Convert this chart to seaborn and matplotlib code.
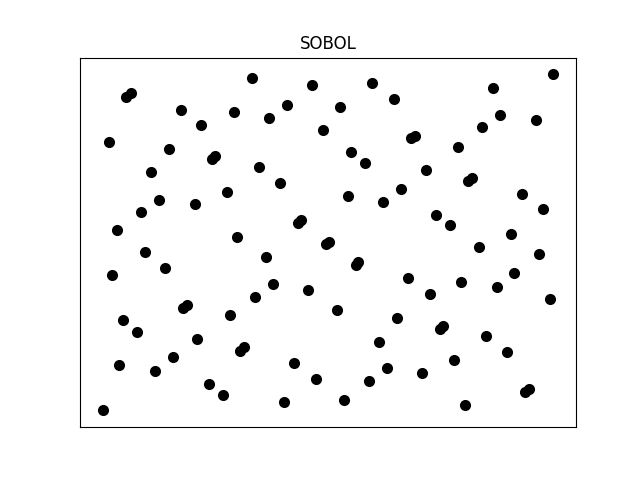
import matplotlib
matplotlib.use("Agg")
import matplotlib.pyplot as plt
import seaborn as sns

# sample points (unit square)
x_vals = [0.002, 0.054, 0.065, 0.017, 0.175, 0.221, 0.292, 0.332, 0.370, 0.410,
          0.465, 0.527, 0.598, 0.647, 0.490, 0.552, 0.583, 0.684, 0.693, 0.789,
          0.842, 0.867, 0.881, 0.961, 1.000, 0.150, 0.110, 0.244, 0.252, 0.348,
          0.394, 0.277, 0.206, 0.126, 0.088, 0.034, 0.095, 0.141, 0.023, 0.299,
          0.363, 0.379, 0.339, 0.434, 0.442, 0.497, 0.504, 0.545, 0.623, 0.663,
          0.718, 0.810, 0.819, 0.931, 0.977, 0.740, 0.771, 0.836, 0.906, 0.969,
          0.913, 0.875, 0.993, 0.796, 0.726, 0.678, 0.562, 0.568, 0.456, 0.521,
          0.654, 0.748, 0.756, 0.851, 0.898, 0.780, 0.614, 0.632, 0.709, 0.592,
          0.536, 0.474, 0.425, 0.403, 0.307, 0.316, 0.283, 0.212, 0.181, 0.190,
          0.048, 0.079, 0.039, 0.119, 0.159, 0.237, 0.268, 0.805, 0.937, 0.946]
y_vals = [0.000, 0.935, 0.946, 0.801, 0.896, 0.849, 0.890, 0.991, 0.871, 0.911,
          0.968, 0.905, 0.976, 0.929, 0.835, 0.771, 0.738, 0.811, 0.818, 0.786,
          0.843, 0.959, 0.881, 0.866, 1.001, 0.780, 0.709, 0.748, 0.757, 0.724,
          0.676, 0.652, 0.614, 0.628, 0.590, 0.536, 0.471, 0.423, 0.402, 0.518,
          0.456, 0.378, 0.337, 0.558, 0.567, 0.495, 0.503, 0.638, 0.622, 0.661,
          0.715, 0.684, 0.692, 0.646, 0.599, 0.581, 0.551, 0.488, 0.527, 0.465,
          0.408, 0.369, 0.331, 0.384, 0.346, 0.393, 0.433, 0.441, 0.360, 0.298,
          0.274, 0.242, 0.251, 0.221, 0.173, 0.149, 0.203, 0.125, 0.110, 0.087,
          0.030, 0.093, 0.140, 0.024, 0.178, 0.189, 0.283, 0.212, 0.306, 0.314,
          0.268, 0.235, 0.134, 0.116, 0.158, 0.078, 0.045, 0.016, 0.054, 0.063]

fig, ax = plt.subplots(figsize=(6.4, 4.8), dpi=100)
sns.scatterplot(x=x_vals, y=y_vals, color="black", s=64, linewidth=0, ax=ax)
ax.set_xticks([])
ax.set_yticks([])
ax.set_title("SOBOL")
plt.savefig("out.png")
